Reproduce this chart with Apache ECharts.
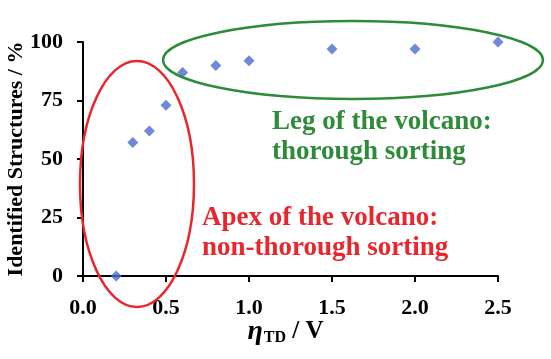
<!DOCTYPE html>
<html><head><meta charset="utf-8">
<script src="https://cdn.jsdelivr.net/npm/echarts@6/dist/echarts.min.js"></script>
<style>html,body{margin:0;padding:0;background:#fff}#c{width:551px;height:359px}</style>
</head><body><div id="c"></div>
<script>
const xValues = [0.2, 0.3, 0.4, 0.5, 0.6, 0.8, 1.0, 1.5, 2.0, 2.5];
const yValues = [0, 57, 62, 73, 87, 90, 92, 97, 97, 100];
const xTicks = ['0.0', '0.5', '1.0', '1.5', '2.0', '2.5'];
const yTicks = ['0', '25', '50', '75', '100'];
const legText = ['Leg of the volcano:', 'thorough sorting'];
const apexText = ['Apex of the volcano:', 'non-thorough sorting'];

const serif = '"Liberation Serif","DejaVu Serif",serif';
const chart = echarts.init(document.getElementById('c'));
chart.setOption({
  animation: false,
  grid: {left: 83, right: 53, top: 42, bottom: 83, containLabel: false, outerBoundsMode: 'none'},
  xAxis: {
    type: 'value', min: 0, max: 2.5, interval: 0.5,
    axisLine: {lineStyle: {color: '#000', width: 2}},
    axisTick: {show: true, length: 6, lineStyle: {color: '#000', width: 2}},
    splitLine: {show: false},
    axisLabel: {margin: 21, color: '#000', fontFamily: serif, fontWeight: 'bold', fontSize: 22,
      formatter: (v) => xTicks[Math.round(v / 0.5)]},
    name: '{eta|η}{sub|TD}{n| / V}', nameLocation: 'middle', nameGap: 42, nameMoveOverlap: false,
    nameTextStyle: {padding: [0, 10, 0, 0], rich: {
      eta: {fontFamily: serif, fontStyle: 'italic', fontWeight: 'bold', fontSize: 28, color: '#000'},
      sub: {fontFamily: serif, fontWeight: 'bold', fontSize: 16, color: '#000', padding: [12, 0, 0, 1]},
      n: {fontFamily: serif, fontWeight: 'bold', fontSize: 25, color: '#000'}
    }}
  },
  yAxis: {
    type: 'value', min: 0, max: 100, interval: 25,
    axisLine: {show: true, lineStyle: {color: '#000', width: 2}},
    axisTick: {show: true, length: 6, lineStyle: {color: '#000', width: 2}},
    splitLine: {show: false},
    axisLabel: {margin: 20, color: '#000', fontFamily: serif, fontWeight: 'bold', fontSize: 22,
      formatter: (v) => yTicks[Math.round(v / 25)]},
    name: 'Identified Structures / %', nameLocation: 'middle', nameGap: 56, nameMoveOverlap: false,
    nameTextStyle: {fontFamily: serif, fontWeight: 'bold', fontSize: 22, color: '#000'}
  },
  series: [{
    type: 'scatter', symbol: 'diamond', symbolSize: 11,
    itemStyle: {color: '#4a6bd0'},
    data: xValues.map((x, i) => [x, yValues[i]])
  }],
  graphic: [
    {type: 'ellipse', shape: {cx: 137, cy: 184, rx: 57, ry: 123}, style: {fill: 'none', stroke: '#e8262d', lineWidth: 2.5}, z: 10},
    {type: 'ellipse', shape: {cx: 353, cy: 60, rx: 190, ry: 39}, style: {fill: 'none', stroke: '#2e8b3a', lineWidth: 2.5}, z: 10},
    {type: 'text', left: 272, top: 107, style: {text: legText.join('\n'), fill: '#2e8b3a', font: 'bold 27px ' + serif, lineHeight: 30}},
    {type: 'text', left: 202, top: 203, style: {text: apexText.join('\n'), fill: '#e8262d', font: 'bold 27px ' + serif, lineHeight: 30}}
  ]
});
</script></body></html>
